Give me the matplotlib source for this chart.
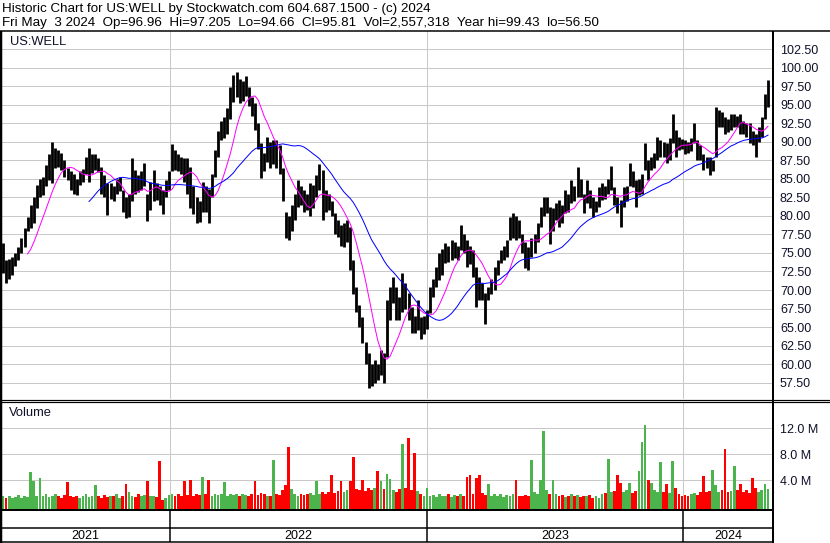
import numpy as np
import pandas as pd
import matplotlib
matplotlib.use("Agg")
import matplotlib.pyplot as plt

plt.rcParams['font.family'] = ['Liberation Sans', 'DejaVu Sans']

W, H = 830, 543

title_1 = "Historic Chart for US:WELL by Stockwatch.com 604.687.1500 - (c) 2024"
title_2 = ("Fri May  3 2024  Op=96.96  Hi=97.205  Lo=94.66  Cl=95.81  "
           "Vol=2,557,318  Year hi=99.43  lo=56.50")
symbol = "US:WELL"

# each bar = 3 trading days
group_days = 3
highs = [
    76.3, 74.0, 74.2, 74.5, 75.0, 75.8, 77.0, 78.3, 79.8, 81.5,
    82.5, 84.2, 85.0, 85.3, 86.8, 88.3, 90.0, 89.2, 88.9, 88.5,
    87.5, 86.5, 86.0, 85.7, 85.0, 86.0, 86.3, 87.9, 89.1, 88.3,
    88.4, 87.8, 86.6, 85.5, 84.4, 84.4, 84.0, 85.0, 85.2, 83.5,
    82.5, 83.0, 87.8, 86.2, 85.5, 86.0, 87.1, 83.0, 84.5, 86.2,
    84.4, 84.0, 83.5, 84.8, 86.0, 89.7, 88.9, 88.4, 87.9, 87.8,
    87.8, 86.6, 84.0, 82.5, 82.0, 84.6, 84.0, 83.6, 85.7, 88.9,
    91.5, 92.8, 93.3, 94.5, 97.4, 99.0, 99.4, 98.5, 98.2, 98.8,
    97.4, 96.0, 95.2, 92.5, 89.8, 88.5, 90.6, 90.0, 90.2, 90.2,
    89.5, 86.5, 80.5, 80.0, 81.5, 83.0, 84.8, 84.0, 83.5, 83.0,
    84.4, 84.2, 85.5, 87.0, 86.2, 83.5, 83.0, 82.0, 80.4, 79.5,
    78.8, 79.0, 79.4, 78.5, 74.0, 70.4, 68.0, 66.3, 63.0, 61.5,
    60.0, 60.5, 60.0, 61.9, 61.5, 68.6, 70.4, 71.7, 70.4, 69.0,
    72.3, 71.0, 69.6, 67.7, 66.5, 68.6, 66.4, 66.5, 67.3, 70.4,
    71.5, 73.1, 75.0, 75.5, 76.3, 76.0, 76.7, 76.5, 76.0, 78.8,
    77.5, 76.7, 76.0, 75.4, 73.1, 71.7, 71.0, 69.6, 70.4, 71.5,
    73.1, 74.0, 75.4, 76.0, 76.7, 79.8, 80.4, 80.0, 79.5, 77.6,
    76.5, 75.8, 77.0, 77.6, 79.0, 81.2, 82.6, 82.5, 81.2, 81.0,
    81.7, 82.1, 81.5, 83.5, 83.0, 84.8, 84.0, 86.6, 85.0, 83.0,
    84.8, 83.5, 82.5, 82.0, 83.9, 84.4, 84.0, 85.0, 86.7, 83.9,
    82.5, 82.1, 83.9, 84.0, 87.1, 86.0, 84.8, 85.0, 85.7, 89.8,
    87.5, 87.9, 88.5, 90.6, 90.2, 90.0, 89.8, 90.5, 93.8, 91.6,
    90.6, 90.4, 90.2, 90.0, 90.5, 92.5, 90.2, 89.5, 88.4, 88.0,
    87.9, 87.5, 94.7, 94.3, 94.0, 93.3, 93.0, 93.8, 93.8, 93.5,
    93.8, 92.8, 92.5, 92.5, 91.5, 91.1, 92.0, 93.3, 96.5, 98.3,
]
lows = [
    72.3, 71.0, 71.5, 72.0, 73.2, 74.0, 75.0, 75.8, 78.0, 78.3,
    79.0, 81.0, 82.5, 82.8, 84.0, 84.8, 84.4, 86.5, 86.6, 86.2,
    85.3, 84.8, 83.5, 83.0, 82.8, 84.2, 84.5, 85.7, 84.6, 85.8,
    86.2, 85.9, 83.0, 82.5, 80.1, 82.3, 82.0, 83.0, 83.3, 80.5,
    79.7, 79.8, 82.0, 83.0, 83.2, 83.5, 84.0, 79.3, 80.8, 82.0,
    82.1, 81.5, 80.3, 82.5, 83.5, 86.0, 86.2, 86.0, 85.7, 84.5,
    83.0, 81.0, 80.2, 79.0, 79.2, 80.5, 80.5, 79.0, 82.5, 85.2,
    88.0, 90.2, 90.5, 91.0, 93.0, 95.3, 96.0, 95.2, 95.5, 96.2,
    94.8, 93.5, 91.6, 89.0, 85.1, 86.0, 87.3, 86.5, 87.0, 86.5,
    85.7, 82.0, 77.0, 76.7, 78.0, 79.4, 81.2, 81.5, 80.5, 80.8,
    80.0, 81.0, 82.5, 83.5, 79.4, 80.5, 80.8, 80.0, 77.5, 77.2,
    76.0, 75.8, 76.5, 72.7, 69.5, 67.0, 65.0, 62.8, 60.0, 56.8,
    57.0, 57.4, 57.8, 58.5, 57.4, 61.0, 66.0, 68.2, 66.0, 65.9,
    67.0, 67.5, 65.9, 64.2, 64.2, 64.6, 63.4, 64.0, 64.8, 66.9,
    69.0, 70.4, 71.3, 72.0, 73.6, 73.8, 74.0, 74.3, 74.0, 75.4,
    75.0, 73.1, 73.5, 71.7, 67.7, 68.6, 68.6, 65.4, 68.6, 69.5,
    70.0, 72.0, 73.6, 74.0, 74.5, 76.7, 77.0, 76.7, 77.0, 75.0,
    73.0, 72.7, 74.4, 75.0, 76.5, 78.5, 80.0, 80.4, 76.2, 78.0,
    79.4, 78.5, 79.0, 80.4, 80.5, 81.7, 82.0, 82.5, 82.5, 80.4,
    81.7, 81.0, 79.9, 80.5, 81.2, 82.1, 82.3, 83.0, 83.5, 81.5,
    80.4, 78.5, 81.2, 82.0, 84.0, 83.9, 81.2, 82.8, 83.0, 86.2,
    84.8, 86.2, 86.5, 87.5, 88.0, 87.9, 87.1, 87.5, 89.8, 88.0,
    88.9, 89.0, 88.4, 88.5, 88.8, 89.8, 87.5, 87.5, 86.2, 86.5,
    85.5, 86.0, 88.0, 92.0, 92.0, 91.1, 91.3, 91.6, 92.0, 92.0,
    91.1, 91.0, 90.6, 89.8, 89.5, 87.9, 90.0, 90.6, 93.0, 94.7,
]
# volume in millions
volumes = [
    1.6, 1.3, 1.5, 1.2, 1.4, 1.7, 1.3, 1.5, 1.4, 5.3,
    3.8, 1.6, 4.3, 1.5, 1.8, 1.4, 1.6, 1.9, 1.5, 1.3,
    1.7, 3.7, 1.5, 1.4, 1.6, 1.2, 1.5, 1.8, 1.4, 1.6,
    3.2, 1.5, 1.3, 1.7, 1.4, 1.6, 1.5, 1.8, 1.3, 1.6,
    3.4, 2.2, 1.5, 1.4, 1.9, 1.6, 1.7, 3.8, 1.5, 1.6,
    1.4, 7.0, 1.0, 1.2, 1.7, 1.9, 1.6, 1.8, 1.5, 3.9,
    1.7, 4.0, 1.6, 1.9, 1.7, 4.4, 1.8, 4.0, 1.6, 1.9,
    1.7, 1.8, 3.7, 1.6, 1.9, 1.7, 1.8, 1.5, 1.9, 1.7,
    1.6, 1.8, 3.9, 1.7, 2.0, 1.8, 1.6, 1.5, 7.1, 1.8,
    1.7, 2.4, 3.2, 9.1, 2.6, 1.8, 1.6, 1.9, 1.7, 1.8,
    2.0, 1.7, 3.9, 1.9, 2.2, 1.8, 2.1, 4.7, 2.0, 2.3,
    3.9, 2.2, 2.4, 3.9, 7.6, 2.6, 2.4, 4.0, 2.3, 2.7,
    2.5, 2.8, 5.4, 3.9, 2.6, 4.9, 4.2, 2.5, 2.2, 2.6,
    9.5, 2.8, 10.4, 2.5, 8.2, 2.3, 1.8, 1.6, 2.7, 1.5,
    1.7, 1.4, 1.8, 1.5, 1.6, 1.9, 1.4, 1.7, 1.5, 1.8,
    1.6, 4.5, 4.7, 1.9, 4.3, 4.8, 2.0, 1.7, 3.4, 1.5,
    1.8, 1.6, 1.9, 1.4, 1.7, 1.5, 1.8, 4.0, 1.6, 1.5,
    1.7, 1.6, 7.1, 2.2, 1.9, 4.0, 11.6, 2.5, 1.9, 4.0,
    1.8, 1.5, 1.7, 1.4, 1.6, 1.8, 1.5, 1.7, 1.4, 1.6,
    1.5, 1.7, 1.3, 1.6, 1.2, 1.8, 2.0, 7.3, 2.1, 2.3,
    4.8, 3.5, 2.2, 2.4, 3.5, 2.0, 2.3, 5.4, 9.8, 12.5,
    4.0, 3.5, 2.4, 2.1, 6.7, 2.2, 3.4, 2.0, 6.9, 2.7,
    1.8, 1.6, 1.7, 1.5, 1.9, 2.0, 1.7, 2.2, 4.6, 2.1,
    2.3, 5.6, 3.3, 2.2, 2.4, 8.7, 2.1, 2.3, 6.1, 2.5,
    3.4, 2.2, 2.4, 2.0, 4.3, 2.7, 2.2, 2.5, 3.4, 2.6,
]
years = ["2021", "2022", "2023", "2024"]
year_start_day = [164, 415, 665]   # trading-day index of first day of each year
price_ticks = [57.5, 60, 62.5, 65, 67.5, 70, 72.5, 75, 77.5, 80, 82.5,
               85, 87.5, 90, 92.5, 95, 97.5, 100, 102.5]
vol_ticks = [4, 8, 12]

FAST, SLOW = 9, 29   # moving average windows, in bars

highs = np.array(highs)
lows = np.array(lows)
volumes = np.array(volumes)
x = np.arange(len(highs)) * group_days + 1
mid = (highs + lows) / 2
ma_fast = pd.Series(mid).rolling(FAST).mean()
ma_slow = pd.Series(mid).rolling(SLOW).mean()
up = np.r_[True, mid[1:] >= mid[:-1]]
vol_colors = np.where(up, '#4cb44c', '#ff0000')

XLIM = (-1.95, 752.9)
GRID = '#c8c8c8'
TXT = '#10102a'
PX = 0.72   # one pixel in points


def rect(x0, y0, x1, y1):
    return [x0 / W, 1 - y1 / H, (x1 - x0) / W, (y1 - y0) / H]


fig = plt.figure(figsize=(W / 100, H / 100), dpi=100)
fig.patch.set_facecolor('white')

# price panel
ax = fig.add_axes(rect(0, 31, 773, 399))
ax.set_xlim(*XLIM)
ax.set_ylim(55.30, 104.93)
ax.vlines(x, lows, highs, color='black', lw=2.8 * PX, zorder=3)
ax.plot(x, ma_fast, color='#ff00ff', lw=1 * PX, zorder=4)
ax.plot(x, ma_slow, color='#0000ff', lw=1 * PX, zorder=4)
ax.set_yticks(price_ticks)
ax.set_yticklabels([f'{t:.2f}' for t in price_ticks])
ax.yaxis.tick_right()
ax.tick_params(axis='y', length=0, pad=5, labelsize=9, labelcolor=TXT)
ax.set_xticks([])
ax.grid(axis='y', color=GRID, lw=1 * PX, zorder=0)
for d in year_start_day:
    ax.axvline(d, color=GRID, lw=1 * PX, zorder=0)
for s in ax.spines.values():
    s.set_visible(False)
ax.text(10 / 773, 1 - 11 / 368, symbol, transform=ax.transAxes,
        fontsize=9.3, va='center', ha='left', color=TXT)

# volume panel
av = fig.add_axes(rect(0, 402, 773, 509))
av.set_xlim(*XLIM)
vmin = -0.46
av.set_ylim(vmin, 16.0)
av.bar(x, volumes - vmin, bottom=vmin, width=2.7, color=vol_colors,
       linewidth=0, zorder=3)
av.set_yticks(vol_ticks)
av.set_yticklabels([f'{t:.1f} M' for t in vol_ticks])
av.yaxis.tick_right()
av.tick_params(axis='y', length=0, pad=5, labelsize=9, labelcolor=TXT)
av.set_xticks([])
av.grid(axis='y', color=GRID, lw=1 * PX, zorder=0)
for d in year_start_day:
    av.axvline(d, color=GRID, lw=1 * PX, zorder=0)
for s in av.spines.values():
    s.set_visible(False)
av.text(9 / 773, 1 - 11 / 107, 'Volume', transform=av.transAxes,
        fontsize=9.3, va='center', ha='left', color=TXT)

# date strip
ad = fig.add_axes(rect(0, 509, 773, 543))
ad.set_xlim(*XLIM)
ad.set_ylim(0, 1)
ad.axis('off')
ad.vlines(year_start_day, 0.02, 1, color='black', lw=1.5 * PX)
edges = [XLIM[0]] + year_start_day + [XLIM[1]]
for i, yr in enumerate(years):
    ad.text((edges[i] + edges[i + 1]) / 2, 0.22, yr, ha='center',
            va='center', fontsize=9, color='black')

# frame lines in pixel space
ov = fig.add_axes([0, 0, 1, 1], zorder=10)
ov.set_xlim(0, W)
ov.set_ylim(H, 0)
ov.axis('off')
ov.patch.set_alpha(0)
k = dict(color='black', solid_capstyle='butt')
ov.plot([0, W], [31, 31], lw=1.5 * PX, **k)
ov.plot([0, W], [399.5, 399.5], lw=1.2 * PX, **k)
ov.plot([0, W], [402, 402], lw=1.2 * PX, **k)
ov.plot([0, 773], [510, 510], lw=2 * PX, **k)
ov.plot([0, 773], [527.5, 527.5], lw=1.5 * PX, **k)
ov.plot([0, 773], [542, 542], lw=1.5 * PX, **k)
ov.plot([773, 773], [31, H], lw=2 * PX, **k)
ov.plot([1, 1], [31, H], lw=2.5 * PX, **k)

fig.text(2 / W, 1 - 9 / H, title_1, fontsize=9.6, va='center', ha='left')
fig.text(2 / W, 1 - 23 / H, title_2, fontsize=9.6, va='center', ha='left')

fig.savefig('out.png', dpi=100)
